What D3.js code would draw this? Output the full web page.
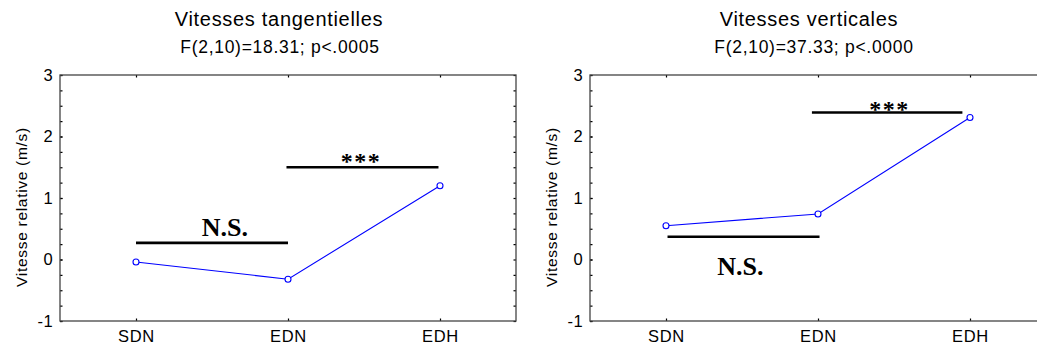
<!DOCTYPE html>
<html>
<head>
<meta charset="utf-8">
<script src="https://cdn.jsdelivr.net/npm/d3@7"></script>
<style>
  body { margin: 0; background: #fff; }
  svg { display: block; }
  .sans { font-family: Arial, "Liberation Sans", sans-serif; letter-spacing: 0.7px; }
</style>
</head>
<body>
<svg width="1037" height="347"></svg>
<script>
// values
var categories = ["SDN", "EDN", "EDH"];
var tangValues = [-0.04, -0.32, 1.20];
var vertValues = [0.55, 0.74, 2.31];
var yTicks = [-1, 0, 1, 2, 3];
var titles = ["Vitesses tangentielles", "Vitesses verticales"];
var subtitles = ["F(2,10)=18.31; p<.0005", "F(2,10)=37.33; p<.0000"];
var yLabel = "Vitesse relative (m/s)";
// significance bars: from/to in category index, y in m/s, label anchor in the same units
var tangBars = [
  { from: 0, to: 1, y: 0.27, label: "N.S.", lx: 0.585, ly: 0.39 },
  { from: 0.99, to: 1.99, y: 1.5, label: "***", lx: 1.48, ly: 1.47 }
];
var vertBars = [
  { from: 0.01, to: 1.01, y: 0.37, label: "N.S.", lx: 0.49, ly: -0.25 },
  { from: 0.96, to: 1.95, y: 2.39, label: "***", lx: 1.47, ly: 2.32 }
];

var svg = d3.select("svg");
// note: "top" is a reserved window property, so use plotTop
var plotTop = 75, plotBottom = 321, plotW = 456;

var panels = [
  { left: 60, values: tangValues, bars: tangBars, title: titles[0], sub: subtitles[0], subShift: -8 },
  { left: 590, values: vertValues, bars: vertBars, title: titles[1], sub: subtitles[1], subShift: -4 }
];

panels.forEach(function(p) {
  var g = svg.append("g");
  var x = d3.scalePoint().domain(categories).range([p.left, p.left + plotW]).padding(0.5);
  var xi = d3.scaleLinear().domain([0, 2]).range([x(categories[0]), x(categories[2])]);
  var y = d3.scaleLinear().domain([-1, 3]).range([plotBottom, plotTop]);
  var cx = p.left + plotW / 2;

  // titles
  g.append("text").attr("class", "sans")
    .attr("x", cx - 9).attr("y", 26)
    .attr("text-anchor", "middle").attr("font-size", "20px")
    .text(p.title);
  g.append("text").attr("class", "sans")
    .attr("x", cx + p.subShift).attr("y", 53)
    .attr("text-anchor", "middle").attr("font-size", "17.5px")
    .text(p.sub);

  // minor ticks every 0.25 on both sides
  var minor = d3.range(-1, 3.001, 0.25);
  g.append("g").attr("transform", "translate(" + p.left + ",0)")
    .call(d3.axisLeft(y).tickValues(minor).tickSize(-2.5).tickFormat(""));
  g.append("g").attr("transform", "translate(" + (p.left + plotW) + ",0)")
    .call(d3.axisRight(y).tickValues(minor).tickSize(-2.5).tickFormat(""));

  // major y labels (plain hyphen for the minus, like the original)
  g.append("g").attr("class", "sans")
    .attr("transform", "translate(" + p.left + ",0)")
    .call(d3.axisLeft(y).tickValues(yTicks).tickSize(-2.5).tickPadding(6.5)
      .tickFormat(function(d) { return String(d); }));

  // x axis bottom with labels, top ticks only
  g.append("g").attr("class", "sans")
    .attr("transform", "translate(0," + plotBottom + ")")
    .call(d3.axisBottom(x).tickSize(-2.5).tickPadding(9));
  g.append("g").attr("transform", "translate(0," + plotTop + ")")
    .call(d3.axisTop(x).tickSize(-2.5).tickFormat(""));

  g.selectAll(".domain").remove();
  g.selectAll(".tick line").attr("stroke", "#000").attr("stroke-width", 1.2);
  g.selectAll(".tick text").attr("fill", "#000").attr("font-size", "16.5px")
    .attr("font-family", "Arial, 'Liberation Sans', sans-serif");

  // frame
  g.append("rect")
    .attr("x", p.left).attr("y", plotTop)
    .attr("width", plotW).attr("height", plotBottom - plotTop)
    .attr("fill", "none").attr("stroke", "#444").attr("stroke-width", 1.3);

  // y axis title
  g.append("text").attr("class", "sans")
    .attr("transform", "translate(" + (p.left - 33) + "," + ((plotTop + plotBottom) / 2 + 9) + ") rotate(-90)")
    .attr("text-anchor", "middle").attr("font-size", "15.5px")
    .text(yLabel);

  // significance bars and labels
  g.selectAll("line.sig").data(p.bars).enter().append("line")
    .attr("class", "sig")
    .attr("x1", function(d) { return xi(d.from); })
    .attr("x2", function(d) { return xi(d.to); })
    .attr("y1", function(d) { return y(d.y); })
    .attr("y2", function(d) { return y(d.y); })
    .attr("stroke", "#000").attr("stroke-width", 2.6);
  g.selectAll("text.sig").data(p.bars).enter().append("text")
    .attr("class", "sig")
    .attr("x", function(d) { return xi(d.lx); })
    .attr("y", function(d) { return y(d.ly); })
    .attr("text-anchor", "middle")
    .attr("font-family", "'Times New Roman', 'Liberation Serif', serif")
    .attr("font-weight", "bold")
    .attr("font-size", function(d) { return d.label == "***" ? "24px" : "26px"; })
    .attr("letter-spacing", function(d) { return d.label == "***" ? "1.5px" : "0px"; })
    .text(function(d) { return d.label; });

  // the mean line
  var line = d3.line()
    .x(function(d, i) { return x(categories[i]); })
    .y(function(d) { return y(d); });
  g.append("path").datum(p.values)
    .attr("d", line)
    .attr("fill", "none").attr("stroke", "#0000ff").attr("stroke-width", 1.1);
  g.selectAll("circle.pt").data(p.values).enter().append("circle")
    .attr("class", "pt")
    .attr("cx", function(d, i) { return x(categories[i]); })
    .attr("cy", function(d) { return y(d); })
    .attr("r", 3)
    .attr("fill", "#fff").attr("stroke", "#0000ff").attr("stroke-width", 1.1);
});
</script>
</body>
</html>
